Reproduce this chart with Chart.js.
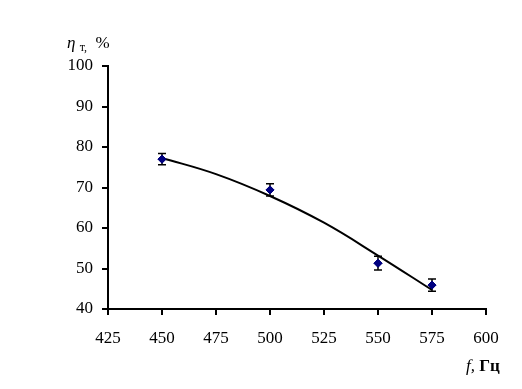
<!DOCTYPE html>
<html>
<head>
<meta charset="utf-8">
<script src="https://cdn.jsdelivr.net/npm/chart.js@4/dist/chart.umd.min.js"></script>
<style>
  html, body { margin: 0; padding: 0; background: #fff; }
  #wrap { position: relative; width: 522px; height: 389px; }
  canvas { position: absolute; left: 0; top: 0; }
  .lbl { position: absolute; font-family: "Liberation Serif", "Times New Roman", serif; font-size: 17px; color: #000; white-space: nowrap; line-height: 1; }
</style>
</head>
<body>
<div id="wrap">
  <canvas id="c" width="522" height="389"></canvas>
  <div class="lbl" style="left:67px; top:34px;"><i>η</i> <span style="font-size:12px; position:relative; top:3px;">т,</span>&nbsp; %</div>
  <div class="lbl" style="left:466px; top:357px;"><i>f,</i>&nbsp;<b>Гц</b></div>
</div>
<script>
// Measured points
const freq = [450, 500, 550, 575];
const eta = [77.0, 69.4, 51.3, 45.9];
const etaErr = [1.4, 1.5, 1.7, 1.5];
// Trend line readings
const trendFreq = [450, 475, 500, 525, 550, 575];
const trendEta = [77.3, 73.3, 67.9, 61.3, 53.2, 44.7];
// Axis ticks
const xTicks = [425, 450, 475, 500, 525, 550, 575, 600];
const yTicks = [40, 50, 60, 70, 80, 90, 100];

const errorBars = {
  id: 'errorBars',
  afterDatasetsDraw(chart) {
    const ctx = chart.ctx, xs = chart.scales.x, ys = chart.scales.y;
    ctx.save();
    ctx.strokeStyle = '#000';
    ctx.lineWidth = 1.5;
    freq.forEach((f, i) => {
      const px = xs.getPixelForValue(f);
      const top = ys.getPixelForValue(eta[i] + etaErr[i]);
      const bot = ys.getPixelForValue(eta[i] - etaErr[i]);
      ctx.beginPath();
      ctx.moveTo(px, top); ctx.lineTo(px, bot);
      ctx.moveTo(px - 4, top); ctx.lineTo(px + 4, top);
      ctx.moveTo(px - 4, bot); ctx.lineTo(px + 4, bot);
      ctx.stroke();
    });
    ctx.restore();
    chart.getDatasetMeta(1).data.forEach(el => el.draw(ctx));
  }
};

new Chart(document.getElementById('c'), {
  type: 'scatter',
  data: {
    datasets: [
      {
        label: 'trend',
        data: trendFreq.map((x, i) => ({ x, y: trendEta[i] })),
        showLine: true,
        borderColor: '#000',
        borderWidth: 2,
        pointRadius: 0,
        tension: 0.4,
        fill: false
      },
      {
        label: 'data',
        data: freq.map((x, i) => ({ x, y: eta[i] })),
        pointStyle: 'rectRot',
        pointRadius: 4,
        backgroundColor: '#000080',
        borderColor: '#000080',
        borderWidth: 1
      }
    ]
  },
  options: {
    responsive: false,
    animation: false,
    devicePixelRatio: 1,
    layout: { padding: { left: 0, right: 36, top: 66, bottom: 0 } },
    plugins: { legend: { display: false }, tooltip: { enabled: false } },
    scales: {
      x: {
        type: 'linear',
        min: 425, max: 600,
        afterBuildTicks: s => { s.ticks = xTicks.map(v => ({ value: v })); },
        afterFit: s => { s.height = 80; },
        border: { display: true, color: '#000', width: 2 },
        grid: { display: true, drawOnChartArea: false, color: '#000', lineWidth: 2, tickLength: 6 },
        ticks: { color: '#000', padding: 13, maxRotation: 0, font: { family: 'Liberation Serif', size: 17 } }
      },
      y: {
        type: 'linear',
        min: 40, max: 100,
        afterBuildTicks: s => { s.ticks = yTicks.map(v => ({ value: v })); },
        afterFit: s => { s.width = 108; },
        border: { display: true, color: '#000', width: 2 },
        grid: { display: true, drawOnChartArea: false, color: '#000', lineWidth: 2, tickLength: 6 },
        ticks: { color: '#000', padding: 9, font: { family: 'Liberation Serif', size: 17 } }
      }
    }
  },
  plugins: [errorBars]
});
</script>
</body>
</html>
